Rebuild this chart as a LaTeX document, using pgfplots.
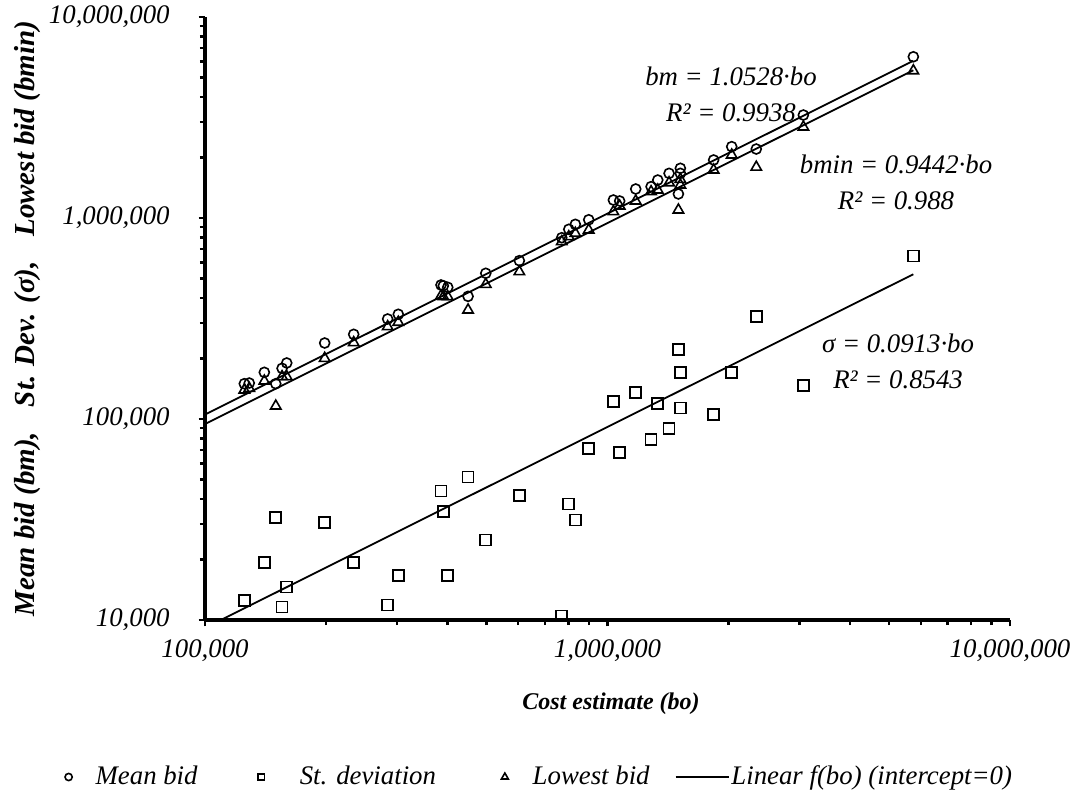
\documentclass[border=0pt]{standalone}
\usepackage{pgfplots}
\pgfplotsset{compat=1.18}
\usepackage{fontspec}
\setmainfont{Liberation Serif}
\newcommand{\fs}{\fontsize{13.4}{16}\selectfont}
\begin{document}
\begin{tikzpicture}
\path[use as bounding box] (-102.5pt,-89pt) rectangle (438pt,310pt);
\begin{axis}[
  at={(0,0)}, anchor=south west,
  scale only axis, width=402.5pt, height=301.5pt,
  xmode=log, ymode=log,
  xmin=1e5, xmax=1e7, ymin=1e4, ymax=1e7,
  axis lines*=left,
  axis line style={line width=1.7pt},
  every outer x axis line/.append style={-},
  every outer y axis line/.append style={-},
  tick align=outside,
  major tick length=3.2pt, minor tick length=2.6pt,
  tick style={black, line width=1.2pt},
  xtick={1e5,1e6,1e7},
  xticklabels={{100,000},{1,000,000},{10,000,000}},
  ytick={1e4,1e5,1e6,1e7},
  yticklabels={{10,000},{100,000},{1,000,000},{10,000,000}},
  tick label style={font=\fs\itshape},
  xticklabel style={yshift=-3pt},
  yticklabel style={xshift=-11pt},
  clip=false,
  xlabel={Cost estimate (bo)},
  ylabel={Mean bid (bm),\hspace{0.85em}St. Dev. (σ),\hspace{0.85em}Lowest bid (bmin)},
  xlabel style={font=\fontsize{12}{14}\selectfont\bfseries\itshape, at={(axis description cs:0.5043,-0.1393)}, anchor=center},
  ylabel style={font=\fontsize{14.5}{16}\selectfont\bfseries\itshape, at={(axis description cs:-0.2211,0.5)}, anchor=center},
  legend columns=4,
  legend cell align=left,
  legend style={draw=none, fill=none, at={(axis description cs:-0.1744,-0.2604)}, anchor=west,
    font=\fs\itshape, column sep=0pt, inner sep=0pt, nodes={inner sep=0pt}},
]
\addplot[only marks, mark=o, mark size=2.5pt, mark options={line width=0.8pt}, black,
  legend image code/.code={\draw[mark size=1.8pt, only marks] plot coordinates {(0pt,0pt)};}]
  table {
x y
125200 149800
128800 151000
140400 170700
149900 149800
155400 178700
159600 190000
198300 238800
234100 263800
284300 314500
302100 331900
385800 464200
390900 460000
400900 452000
450300 407600
498300 530800
603900 613400
769700 798000
801200 878500
831800 930000
898000 980000
1034000 1229000
1072000 1215000
1175000 1394000
1283000 1432000
1333000 1545000
1422000 1668000
1500000 1317000
1517000 1767000
1517000 1668000
1835000 1944000
2035000 2264000
2342000 2204000
3066000 3254000
5752000 6340000
};
\addlegendentry{\hspace*{11.7pt}Mean bid\hspace*{30.2pt}}
\addplot[only marks, mark=square, mark size=2.75pt, mark options={line width=0.9pt}, black,
  legend image code/.code={\draw[mark size=1.6pt, only marks] plot coordinates {(0pt,0pt)};}]
  table {
x y
125200 12530
140400 19370
149900 32280
155400 11600
159600 14600
198300 30620
234100 19370
284300 11870
302100 16610
385800 43830
390900 34740
400900 16610
450300 51440
498300 25000
603900 41730
769700 10470
801200 37760
831800 31450
898000 71470
1034000 122500
1072000 67970
1175000 135800
1283000 79250
1333000 119200
1422000 89860
1500000 221200
1517000 170700
1517000 113400
1835000 105100
2035000 170700
2342000 324300
3066000 146400
5752000 647000
};
\addlegendentry{\hspace*{17.7pt}St. deviation\hspace*{32.7pt}}
\addplot[only marks, mark=triangle, mark size=3pt, mark options={line width=0.8pt}, black,
  legend image code/.code={\draw[mark size=2pt, only marks] plot coordinates {(0pt,0pt)};}]
  table {
x y
125200 139400
128800 142100
140400 154500
149900 116000
155400 162400
159600 162400
198300 200400
234100 239700
284300 287900
302100 302900
385800 410000
390900 406000
400900 406000
450300 348600
498300 467800
603900 540600
769700 762500
801200 807300
831800 839400
898000 871500
1034000 1075000
1072000 1147000
1175000 1215000
1283000 1352000
1333000 1378000
1422000 1498000
1500000 1096000
1517000 1557000
1517000 1459000
1835000 1733000
2035000 2058000
2342000 1790000
3066000 2836000
5752000 5400000
};
\addlegendentry{\hspace*{12.2pt}Lowest bid\hspace*{12.5pt}}
\addplot[black, line width=0.9pt, no marks,
  legend image code/.code={\draw[line width=0.9pt] (0pt,0pt) -- (26.5pt,0pt);}]
  coordinates {(100000,105280) (5752000,6055706)};
\addlegendentry{\hspace*{1pt}Linear f(bo) (intercept=0)}
\addplot[black, line width=0.9pt, no marks, forget plot]
  coordinates {(100000,94420) (5752000,5431038)};
\addplot[black, line width=0.9pt, no marks, forget plot]
  coordinates {(109529,10000) (5752000,525158)};
\node[align=center, font=\fs\itshape, inner sep=0pt] at (rel axis cs:0.6534,0.8723) {bm = 1.0528·bo\\[2pt]R² = 0.9938};
\node[align=center, font=\fs\itshape, inner sep=0pt] at (rel axis cs:0.8584,0.7255) {bmin = 0.9442·bo\\[2pt]R² = 0.988};
\node[align=center, font=\fs\itshape, inner sep=0pt] at (rel axis cs:0.8609,0.4287) {σ = 0.0913·bo\\[2pt]R² = 0.8543};
\end{axis}
\end{tikzpicture}
\end{document}
